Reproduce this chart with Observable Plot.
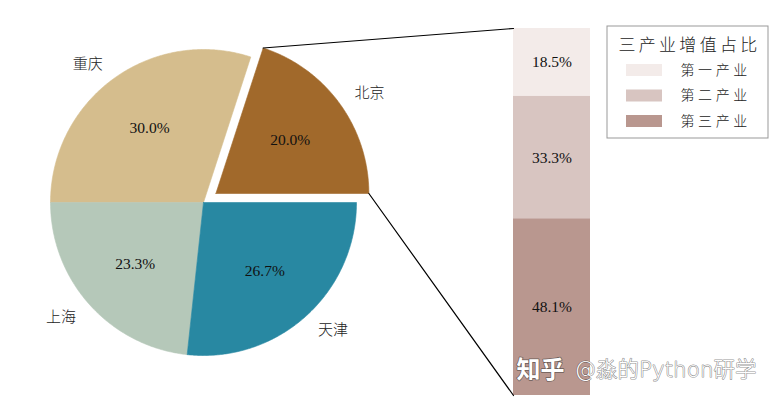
<!DOCTYPE html>
<html>
<head>
<meta charset="utf-8">
<script src="https://cdn.jsdelivr.net/npm/d3@7"></script>
<script src="https://cdn.jsdelivr.net/npm/@observablehq/plot@0.6"></script>
<style>
  html, body { margin: 0; padding: 0; background: #ffffff; }
  #chart svg { display: block; }
  .lg-title text { letter-spacing: 3.3px; }
  .lg-item text { letter-spacing: 3.6px; }
  .wm text { paint-order: stroke; }
</style>
</head>
<body>
<div id="chart"></div>
<script>
// ---- data ----
const cities = ["北京", "重庆", "上海", "天津"];
const cityShares = [20.0, 30.0, 23.3, 26.7];
const cityColors = ["#A1692B", "#D5BD8D", "#B5C8B9", "#2888A2"];
const cityExplode = [0.1, 0, 0, 0];

const industries = ["第一产业", "第二产业", "第三产业"];
const industryShares = [18.5, 33.3, 48.1];
const industryColors = ["#F3EBE9", "#D8C5C1", "#B9978F"];
const legendTitle = "三产业增值占比";
const watermarkParts = ["知乎", "@淼的Python研学"];

// ---- layout ----
const W = 777, H = 405;
const cx = 203, cy = 202, R = 153;
const labelDist = 1.12, pctDist = 0.6;
const barX0 = 513, barX1 = 590, barTop = 28, barBottom = 395;
const lg = {x0: 607, x1: 768, y0: 26, y1: 138, titleY: 45, itemY0: 70, itemDy: 25.5,
            swX0: 626, swX1: 662, swH: 12, textX: 680};

const numFont = "'Liberation Serif', 'Noto Sans CJK SC', serif";
const cjkFont = "'Noto Sans CJK SC', 'Noto Sans', sans-serif";

// ---- pie geometry from the data ----
const total = d3.sum(cityShares);
let acc = 0;
const slices = cities.map((name, i) => {
  const a0 = acc / total * 2 * Math.PI;
  acc += cityShares[i];
  const a1 = acc / total * 2 * Math.PI;
  const mid = (a0 + a1) / 2;
  const off = cityExplode[i] * R;
  const ox = cx + off * Math.cos(mid), oy = cy - off * Math.sin(mid);
  return {name, a0, a1, mid, ox, oy, pct: cityShares[i] / total * 100};
});
const piePts = slices.flatMap(s => {
  const pts = [{name: s.name, x: s.ox, y: s.oy}];
  const n = Math.max(2, Math.ceil((s.a1 - s.a0) / (Math.PI / 360)));
  for (let k = 0; k <= n; k++) {
    const a = s.a0 + (s.a1 - s.a0) * k / n;
    pts.push({name: s.name, x: s.ox + R * Math.cos(a), y: s.oy - R * Math.sin(a)});
  }
  pts.push({name: s.name, x: s.ox, y: s.oy});
  return pts;
});
const labels = slices.map(s => ({
  name: s.name,
  x: s.ox + labelDist * R * Math.cos(s.mid),
  y: s.oy - labelDist * R * Math.sin(s.mid),
  right: Math.cos(s.mid) > 0
}));
const pcts = slices.map(s => ({
  text: s.pct.toFixed(1) + "%",
  x: s.ox + pctDist * R * Math.cos(s.mid),
  y: s.oy - pctDist * R * Math.sin(s.mid)
}));

// ---- stacked bar from the data ----
const itotal = d3.sum(industryShares);
let iacc = 0;
const segs = industries.map((name, i) => {
  const y1 = barTop + iacc / itotal * (barBottom - barTop);
  iacc += industryShares[i];
  const y2 = barTop + iacc / itotal * (barBottom - barTop);
  return {name, y1, y2, text: industryShares[i].toFixed(1) + "%"};
});

// ---- connection lines (exploded slice edges -> bar corners) ----
const bj = slices[0];
const conn = [
  {k: "top", x: bj.ox + R * Math.cos(bj.a1), y: bj.oy - R * Math.sin(bj.a1)},
  {k: "top", x: barX0, y: barTop},
  {k: "bot", x: bj.ox + R * Math.cos(bj.a0), y: bj.oy - R * Math.sin(bj.a0)},
  {k: "bot", x: barX0, y: barBottom}
];

const legendItems = industries.map((name, i) => ({name, y: lg.itemY0 + i * lg.itemDy}));

const chart = Plot.plot({
  width: W, height: H, margin: 0,
  x: {domain: [0, W], range: [0, W], axis: null},
  y: {domain: [0, H], range: [0, H], axis: null},
  color: {domain: [...cities, ...industries], range: [...cityColors, ...industryColors]},
  style: {background: "#ffffff", overflow: "visible"},
  marks: [
    // pie slices
    Plot.line(piePts, {x: "x", y: "y", z: "name", fill: "name", stroke: "name", strokeWidth: 0.6}),
    // slice percentage labels
    Plot.text(pcts, {x: "x", y: "y", text: "text", fontSize: 15.5, fontFamily: numFont, fill: "#111"}),
    // city labels
    Plot.text(labels.filter(d => d.right), {x: "x", y: "y", text: "name", textAnchor: "start",
      fontSize: 15, fontFamily: cjkFont, fontWeight: 300, fill: "#222"}),
    Plot.text(labels.filter(d => !d.right), {x: "x", y: "y", text: "name", textAnchor: "end",
      fontSize: 15, fontFamily: cjkFont, fontWeight: 300, fill: "#222"}),
    // stacked bar
    Plot.rect(segs, {x1: barX0, x2: barX1, y1: "y1", y2: "y2", fill: "name"}),
    Plot.text(segs, {x: (barX0 + barX1) / 2, y: d => (d.y1 + d.y2) / 2, text: "text",
      fontSize: 15.5, fontFamily: numFont, fill: "#111"}),
    // connection lines
    Plot.line(conn, {x: "x", y: "y", z: "k", stroke: "#000", strokeWidth: 1.2}),
    // legend
    Plot.rect([legendTitle], {x1: lg.x0, x2: lg.x1, y1: lg.y0, y2: lg.y1, fill: "#fff", stroke: "#999", strokeWidth: 1}),
    Plot.text([legendTitle], {x: (lg.x0 + lg.x1) / 2 + 1.5, y: lg.titleY, text: d => d, fontSize: 17,
      fontFamily: cjkFont, fontWeight: 300, fill: "#222", className: "lg-title"}),
    Plot.rect(legendItems, {x1: lg.swX0, x2: lg.swX1, y1: d => d.y - lg.swH / 2, y2: d => d.y + lg.swH / 2, fill: "name"}),
    Plot.text(legendItems, {x: lg.textX, y: "y", text: "name", textAnchor: "start", fontSize: 14,
      fontFamily: cjkFont, fontWeight: 300, fill: "#222", className: "lg-item"}),
    // watermark
    Plot.text(watermarkParts.slice(0, 1), {x: 516, y: 370, text: d => d, textAnchor: "start", fontSize: 24,
      fontWeight: 700, fontFamily: cjkFont, fill: "#ffffff", stroke: "rgba(50,50,50,0.6)", strokeWidth: 1.5, className: "wm"}),
    Plot.text(watermarkParts.slice(1), {x: 574, y: 370, text: d => d, textAnchor: "start", fontSize: 21.5,
      fontFamily: "'DejaVu Sans', 'Noto Sans CJK SC', sans-serif", fontWeight: 300, fill: "#ffffff",
      stroke: "rgba(50,50,50,0.55)", strokeWidth: 1.2, className: "wm"})
  ]
});
document.getElementById("chart").appendChild(chart);
</script>
</body>
</html>
